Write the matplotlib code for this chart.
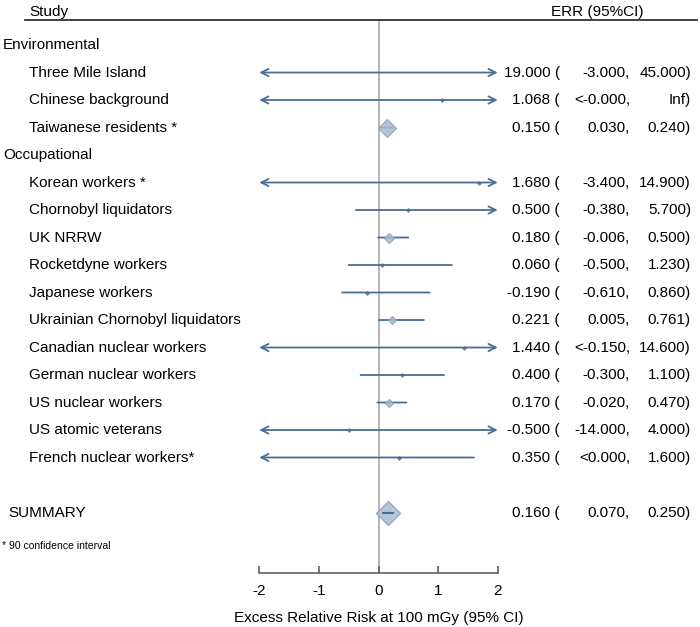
import numpy as np
import matplotlib
matplotlib.use("Agg")
import matplotlib.pyplot as plt
from matplotlib.transforms import blended_transform_factory
from matplotlib.lines import Line2D

plt.rcParams['font.family'] = ['Liberation Sans', 'DejaVu Sans']

# ---- data ----
groups = ["Environmental", "Occupational"]
group_of = [0, 0, 0, 1, 1, 1, 1, 1, 1, 1, 1, 1, 1, 1]
studies = ["Three Mile Island", "Chinese background", "Taiwanese residents *",
           "Korean workers *", "Chornobyl liquidators", "UK NRRW",
           "Rocketdyne workers", "Japanese workers", "Ukrainian Chornobyl liquidators",
           "Canadian nuclear workers", "German nuclear workers", "US nuclear workers",
           "US atomic veterans", "French nuclear workers*"]
err = [19.0, 1.068, 0.15, 1.68, 0.5, 0.18, 0.06, -0.19, 0.221, 1.44, 0.4, 0.17, -0.5, 0.35]
lo = [-3.0, -np.inf, 0.03, -3.4, -0.38, -0.006, -0.5, -0.61, 0.005, -np.inf, -0.3, -0.02, -14.0, -np.inf]
hi = [45.0, np.inf, 0.24, 14.9, 5.7, 0.5, 1.23, 0.86, 0.761, 14.6, 1.1, 0.47, 4.0, 1.6]
err_text = ["19.000", "1.068", "0.150", "1.680", "0.500", "0.180", "0.060", "-0.190",
            "0.221", "1.440", "0.400", "0.170", "-0.500", "0.350"]
lo_text = ["-3.000", "<-0.000", "0.030", "-3.400", "-0.380", "-0.006", "-0.500", "-0.610",
           "0.005", "<-0.150", "-0.300", "-0.020", "-14.000", "<0.000"]
hi_text = ["45.000", "Inf", "0.240", "14.900", "5.700", "0.500", "1.230", "0.860",
           "0.761", "14.600", "1.100", "0.470", "4.000", "1.600"]
# relative weights (box size)
weight = [0.0, 0.03, 1.0, 0.03, 0.03, 0.28, 0.03, 0.03, 0.22, 0.03, 0.03, 0.22, 0.03, 0.03]

summary_err, summary_lo, summary_hi = 0.16, 0.07, 0.25
summary_text = ("0.160", "0.070", "0.250")

LINE = '#4a6d94'
FILL = '#a9bbd0'
EDGE = '#8ea3bc'
FS = 11

fig = plt.figure(figsize=(7, 6.27), dpi=100)
ax = fig.add_axes([259.3 / 700, 1 - 573 / 627, 238.4 / 700, 553 / 627])
ax.set_xlim(-2, 2)
ax.set_ylim(20.2, 0.09)
tr = blended_transform_factory(fig.transFigure, ax.transData)

# row layout
rows = []
r = 1
for g, name in enumerate(groups):
    rows.append(("group", name, r, None))
    r += 1
    for i, s in enumerate(studies):
        if group_of[i] == g:
            rows.append(("study", s, r, i))
            r += 1
summary_row = r + 1


def value_columns(row, e, l, h):
    ax.text(560 / 700, row, e + " (", transform=tr, ha='right', va='center', fontsize=FS)
    ax.text(630 / 700, row, l + ",", transform=tr, ha='right', va='center', fontsize=FS)
    ax.text(691 / 700, row, h + ")", transform=tr, ha='right', va='center', fontsize=FS)


ax.axvline(0, color='#a0a0a0', lw=1.1, zorder=1)

for kind, name, row, i in rows:
    if kind == "group":
        ax.text(3 / 700, row, name, transform=tr, ha='left', va='center', fontsize=FS)
        continue
    ax.text(29 / 700, row, name, transform=tr, ha='left', va='center', fontsize=FS)
    left = max(lo[i], -2)
    right = min(hi[i], 2)
    style = ('<' if lo[i] < -2 else '') + '-' + ('>' if hi[i] > 2 else '')
    ax.annotate("", xy=(right, row), xytext=(left, row),
                arrowprops=dict(arrowstyle=style, color=LINE, lw=1.3,
                                shrinkA=0, shrinkB=0, mutation_scale=13),
                zorder=3)
    if -2 <= err[i] <= 2 and weight[i] > 0:
        ms = 9 * np.sqrt(weight[i])
        if ms > 3:
            ax.plot(err[i], row, marker='D', ms=ms, mfc=FILL, mec=EDGE,
                    mew=0.9, alpha=0.85, zorder=4, ls='none')
        else:
            ax.plot(err[i], row, marker='D', ms=2.0, mfc=LINE, mec=LINE,
                    mew=0.5, alpha=0.8, zorder=4, ls='none')
    value_columns(row, err_text[i], lo_text[i], hi_text[i])

# summary
ax.text(8 / 700, summary_row, "SUMMARY", transform=tr, ha='left', va='center', fontsize=FS)
ax.plot(summary_err, summary_row, marker='D', ms=12.5, mfc=FILL, mec=EDGE, mew=1.0,
        alpha=0.85, zorder=4, ls='none')
ax.plot([summary_lo, summary_hi], [summary_row, summary_row], color=LINE, lw=1.5, zorder=5)
value_columns(summary_row, *summary_text)

ax.text(2 / 700, summary_row + 1.2, "* 90 confidence interval", transform=tr,
        ha='left', va='center', fontsize=7.5)

# header
ax.text(29 / 700, -0.2, "Study", transform=tr, ha='left', va='center', fontsize=FS)
ax.text(597 / 700, -0.2, "ERR (95%CI)", transform=tr, ha='center', va='center', fontsize=FS)
fig.add_artist(Line2D([25 / 700, 697 / 700], [1 - 20 / 627, 1 - 20 / 627],
                      transform=fig.transFigure, color='#333333', lw=1.3))

# axis
for side in ['left', 'right', 'top']:
    ax.spines[side].set_visible(False)
ax.spines['bottom'].set_color('#555555')
ax.spines['bottom'].set_linewidth(1.1)
ax.set_yticks([])
ax.set_xticks([-2, -1, 0, 1, 2])
ax.set_xticklabels(["-2", "-1", "0", "1", "2"])
ax.tick_params(axis='x', direction='in', length=5, width=1.1, color='#555555',
               labelsize=FS, pad=8)
ax.set_xlabel("Excess Relative Risk at 100 mGy (95% CI)", fontsize=FS, labelpad=9)

fig.savefig("out.png", dpi=100)
